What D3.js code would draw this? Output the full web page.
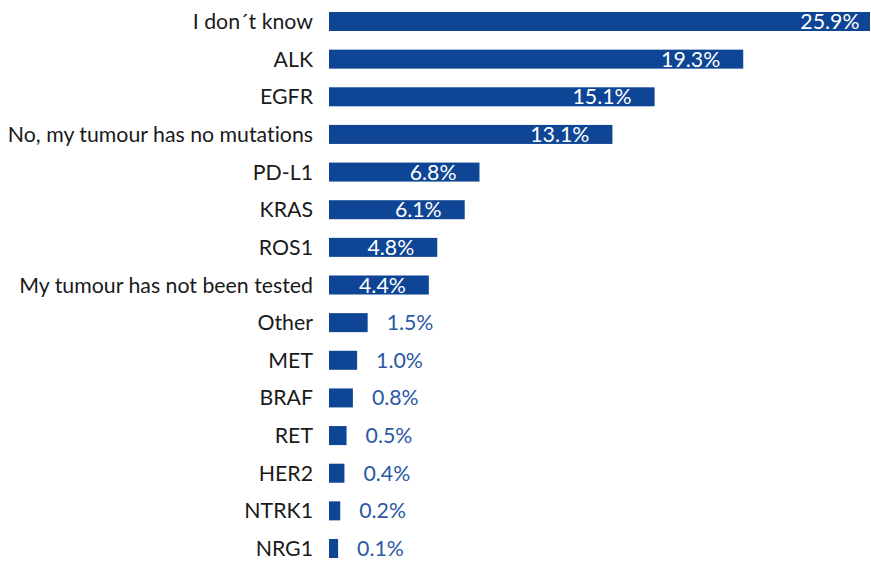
<!DOCTYPE html>
<html>
<head>
<meta charset="utf-8">
<script src="https://cdn.jsdelivr.net/npm/d3@7"></script>
<style>
  html, body { margin: 0; padding: 0; background: #fff; }
  svg { display: block; font-family: Lato, "Open Sans", sans-serif; font-variant-ligatures: none; }
</style>
</head>
<body>
<svg id="chart" width="871" height="561"></svg>
<script>
// Reported biomarker / mutation status, share of respondents (%)
const categories = [
  "I don\u00B4t know", "ALK", "EGFR", "No, my tumour has no mutations", "PD-L1",
  "KRAS", "ROS1", "My tumour has not been tested", "Other", "MET",
  "BRAF", "RET", "HER2", "NTRK1", "NRG1"
];
const values = [25.9, 19.3, 15.1, 13.1, 6.8, 6.1, 4.8, 4.4, 1.5, 1.0, 0.8, 0.5, 0.4, 0.2, 0.1];
const valueLabels = values.map(v => v.toFixed(1) + "%");

const W = 871, H = 561;
const barColor = "#0f4595";
const outLabelColor = "#2a59a5";
const barStart = 329;      // left edge of every bar
const nub = 7;             // minimum visible stub so tiny shares stay visible
const insideMin = 4;       // values above this get their label inside the bar

const svg = d3.select("#chart");

const x = d3.scaleLinear()
  .domain([0, 25.9])
  .range([barStart + nub, barStart + nub + 25.9 * 21.1]);

const y = d3.scaleBand()
  .domain(categories)
  .range([12, 558])
  .paddingInner(0.495)
  .paddingOuter(0);

const rows = categories.map((c, i) => ({ c, v: values[i], label: valueLabels[i] }));

svg.append("defs").append("clipPath").attr("id", "plotClip")
  .append("rect").attr("x", 0).attr("y", 0).attr("width", 870).attr("height", H);

const g = svg.append("g").attr("clip-path", "url(#plotClip)");

g.selectAll("rect.bar")
  .data(rows)
  .join("rect")
  .attr("class", "bar")
  .attr("x", barStart)
  .attr("y", d => y(d.c))
  .attr("width", d => x(d.v) - barStart)
  .attr("height", y.bandwidth())
  .attr("fill", barColor);

// category labels
svg.selectAll("text.cat")
  .data(rows)
  .join("text")
  .attr("class", "cat")
  .attr("x", 313)
  .attr("y", d => y(d.c) + y.bandwidth() / 2 + 7.5)
  .attr("text-anchor", "end")
  .attr("font-size", 21.3)
  .attr("fill", "#1a1a1a")
  .text(d => d.c);

// value labels
g.selectAll("text.val")
  .data(rows)
  .join("text")
  .attr("class", "val")
  .attr("x", d => d.v > insideMin ? x(d.v) - 23 : x(d.v) + 19)
  .attr("y", d => y(d.c) + y.bandwidth() / 2 + 7.5)
  .attr("text-anchor", d => d.v > insideMin ? "end" : "start")
  .attr("font-size", 21.3)
  .attr("fill", d => d.v > insideMin ? "#ffffff" : outLabelColor)
  .text(d => d.label);
</script>
</body>
</html>
